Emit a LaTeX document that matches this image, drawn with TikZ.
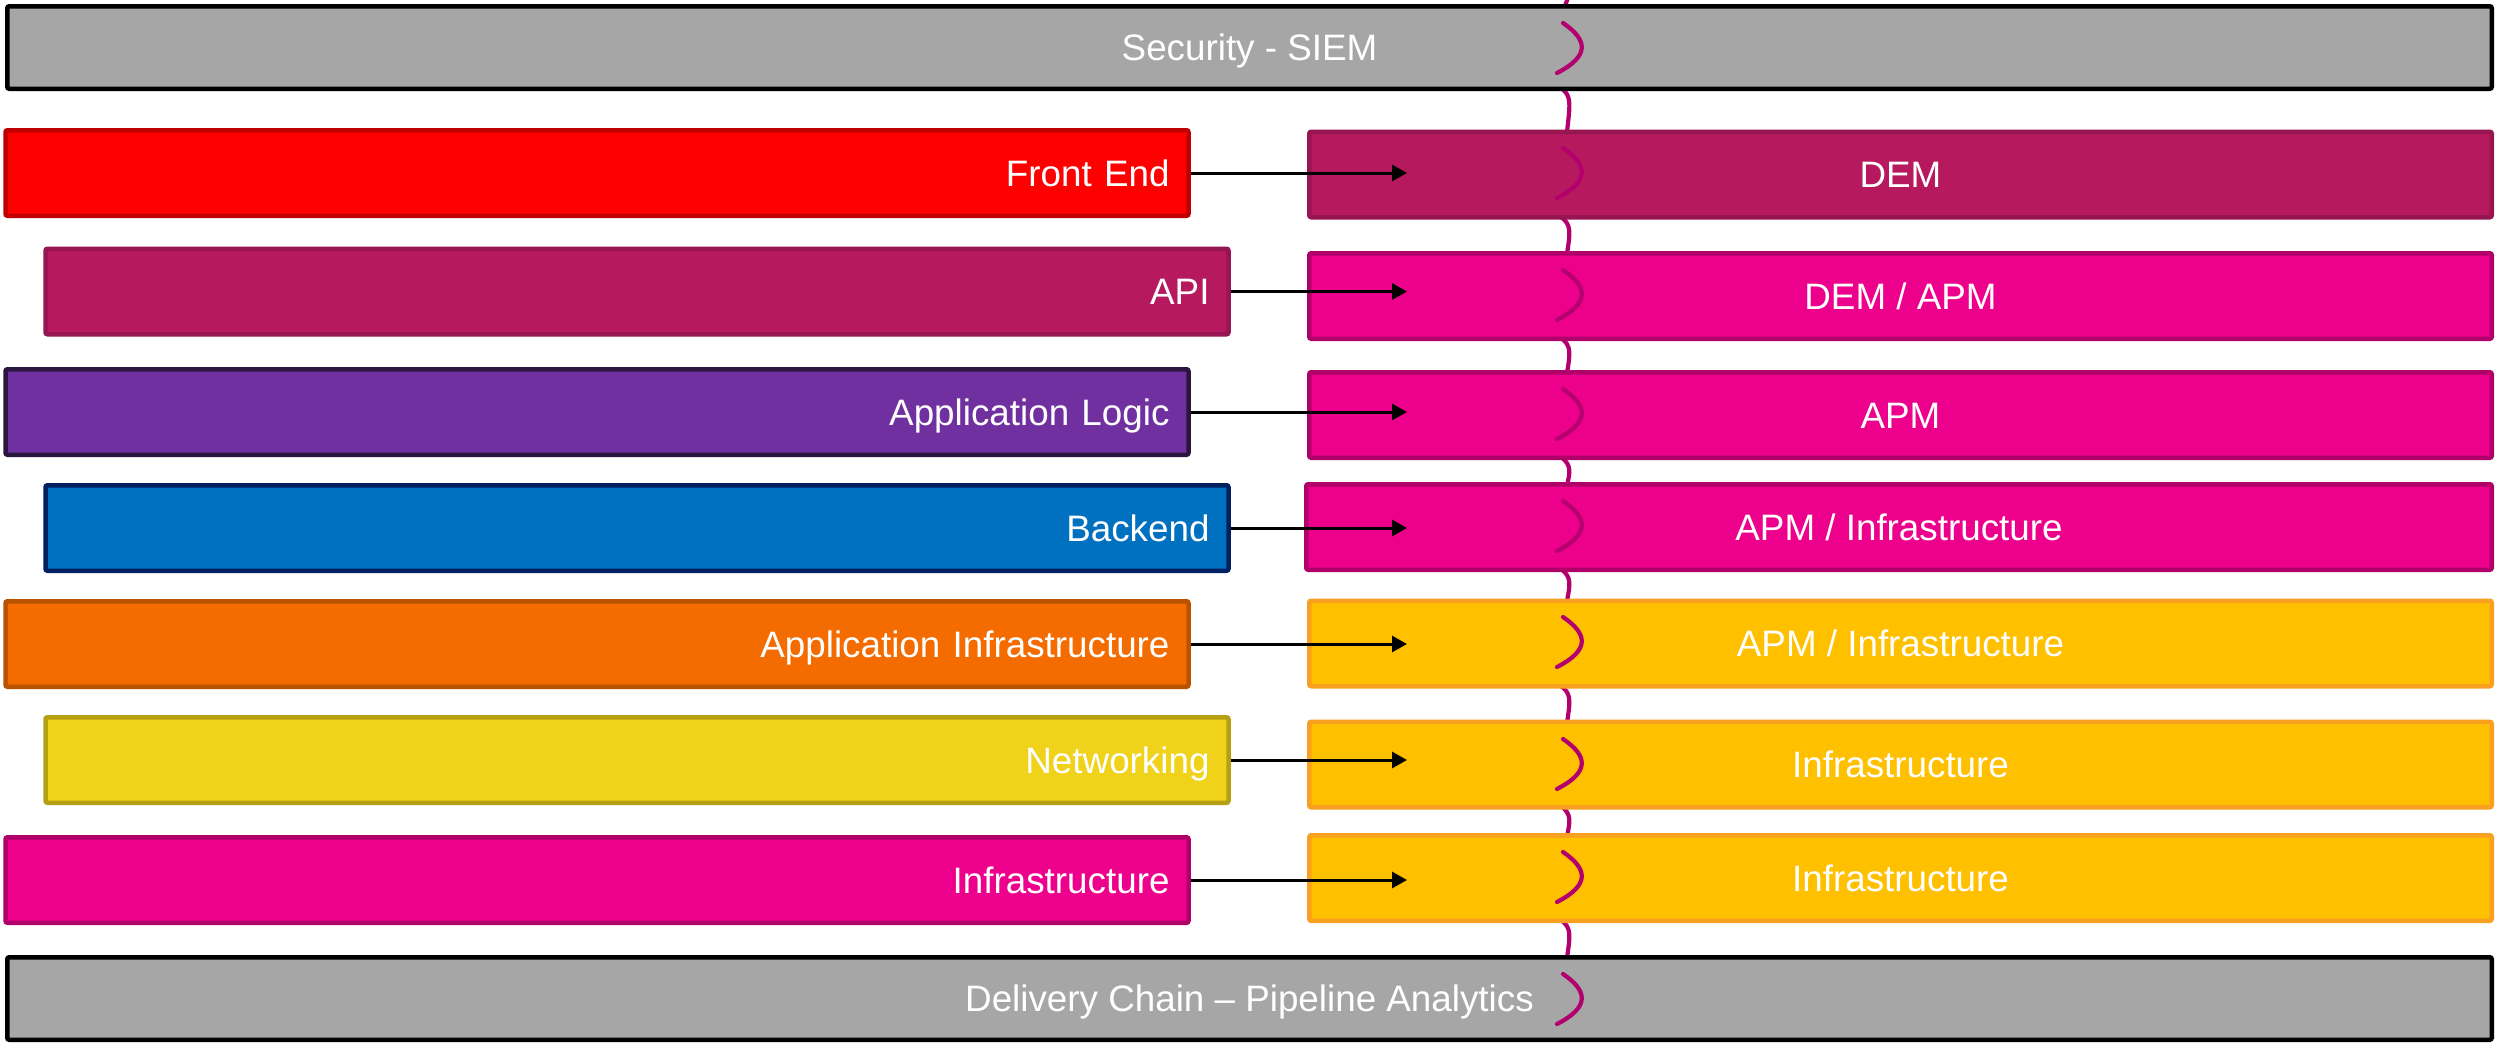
\documentclass[tikz,border=0pt]{standalone}
\usepackage{fontspec}
\setmainfont{Liberation Sans}
\usetikzlibrary{arrows.meta}
\definecolor{cGray}{HTML}{A6A6A6}
\definecolor{cRed}{HTML}{FF0000}
\definecolor{cRedD}{HTML}{C00000}
\definecolor{cBerry}{HTML}{B7195F}
\definecolor{cBerryD}{HTML}{951650}
\definecolor{cPurple}{HTML}{7030A0}
\definecolor{cPurpleD}{HTML}{2B1640}
\definecolor{cBlue}{HTML}{0070C0}
\definecolor{cBlueD}{HTML}{002060}
\definecolor{cOrange}{HTML}{F46B00}
\definecolor{cOrangeD}{HTML}{BA5300}
\definecolor{cYel}{HTML}{F0D21A}
\definecolor{cYelD}{HTML}{B5A014}
\definecolor{cMag}{HTML}{EC008C}
\definecolor{cMagD}{HTML}{B0006A}
\definecolor{cGold}{HTML}{FFC000}
\definecolor{cGoldD}{HTML}{F9A020}
\definecolor{cWave}{HTML}{B4006E}
\tikzset{
  box/.style={draw, line width=2.25pt, rounded corners=1pt, text=white,
    font=\fontsize{18.4}{22}\selectfont, text height=13.2pt, text depth=0pt,
    minimum height=42.75pt},
  lbox/.style={box, anchor=east, minimum width=591.5pt, text width=572.5pt,
    inner xsep=9.5pt, inner ysep=0pt, align=right},
  rbox/.style={box, minimum width=591.25pt, inner sep=0pt, align=center},
  gbox/.style={box, draw=black, fill=cGray, minimum width=1242.25pt,
    minimum height=41.25pt, inner sep=0pt, align=center},
  link/.style={line width=1.5pt, -{Triangle[length=7.5pt,width=8pt]}},
  wave/.style={cWave, line width=2.1pt, line cap=round},
}
\begin{document}
\begin{tikzpicture}[x=0.5pt,y=-0.5pt]
\useasboundingbox (0,0) rectangle (2496,1044);
% wave pieces in the gaps (behind the boxes)
\draw[wave] (1568,-2) -- (1564,8);
\foreach \b/\t in {91/129,220/251,341/370,460/482,572/598,689/720,809/833,923/955}{
  \draw[wave] (1561,\b-3) .. controls (1572,\b+5) and (1570,\b+13) .. (1567,\t+3);
}
% bars
\node[gbox] (siem) at (1249.5,47.5) {Security - SIEM};
\node[gbox] (dc) at (1249.5,998.5) {Delivery Chain – Pipeline Analytics};
% left column
\node[lbox, fill=cRed, draw=cRedD] (fe) at (1190.75,173) {Front End};
\node[lbox, fill=cBerry, draw=cBerryD] (api) at (1230.75,291.5) {API};
\node[lbox, fill=cPurple, draw=cPurpleD] (al) at (1190.75,412) {Application Logic};
\node[lbox, fill=cBlue, draw=cBlueD] (be) at (1230.75,528) {Backend};
\node[lbox, fill=cOrange, draw=cOrangeD] (ai) at (1190.75,644) {Application Infrastructure};
\node[lbox, fill=cYel, draw=cYelD] (nw) at (1230.75,760) {Networking};
\node[lbox, fill=cMag, draw=cMagD] (inf) at (1190.75,880) {Infrastructure};
% right column
\node[rbox, fill=cBerry, draw=cBerryD] (r1) at (1900.5,174.5) {DEM};
\node[rbox, fill=cMag, draw=cMagD] (r2) at (1900.5,296) {DEM / APM};
\node[rbox, fill=cMag, draw=cMagD] (r3) at (1900.5,415) {APM};
\node[rbox, fill=cMag, draw=cMagD, minimum width=592.75pt] (r4) at (1899,527) {APM / Infrastructure};
\node[rbox, fill=cGold, draw=cGoldD] (r5) at (1900.5,643.5) {APM / Infrastructure};
\node[rbox, fill=cGold, draw=cGoldD] (r6) at (1900.5,764.5) {Infrastructure};
\node[rbox, fill=cGold, draw=cGoldD] (r7) at (1900.5,878) {Infrastructure};
% wave brackets inside the boxes
\foreach \t in {4,129,251,370,482,598,720,833,955}{
  \draw[wave] (1563,\t+19) .. controls (1588,\t+36) and (1590,\t+52) .. (1557,\t+69);
}
% connectors
\coordinate (tip) at (1407,0);
\foreach \n in {fe,api,al,be,ai,nw,inf}{
  \draw[link] (\n.east) -- (\n.east -| tip);
}
\end{tikzpicture}
\end{document}
